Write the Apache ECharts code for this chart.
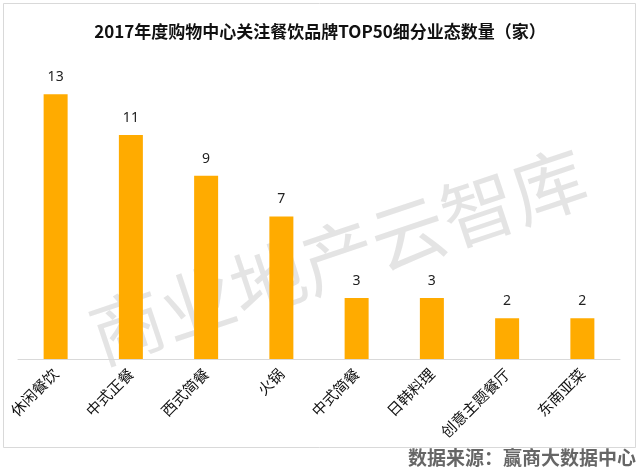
<!DOCTYPE html>
<html>
<head>
<meta charset="utf-8">
<script src="https://cdn.jsdelivr.net/npm/echarts@6/dist/echarts.min.js"></script>
<style>
html,body{margin:0;padding:0;background:#fff;}
#main{width:640px;height:473px;}
</style>
</head>
<body>
<div id="main"></div>
<script>
const categories = ['休闲餐饮','中式正餐','西式简餐','火锅','中式简餐','日韩料理','创意主题餐厅','东南亚菜'];
const values = [13, 11, 9, 7, 3, 3, 2, 2];
const titleText = '2017年度购物中心关注餐饮品牌TOP50细分业态数量（家）';
const sourceText = '数据来源：赢商大数据中心';
const watermarkText = '商业地产云智库';

const chart = echarts.init(document.getElementById('main'));
chart.setOption({
  backgroundColor: '#fff',
  animation: false,
  title: {
    text: titleText,
    left: 'center',
    top: 18,
    textStyle: {fontFamily: 'Noto Sans CJK SC', fontSize: 17, fontWeight: 'bold', color: '#111'}
  },
  graphic: [
    {type: 'rect', shape: {x: 3.5, y: 3.5, width: 632, height: 444}, style: {fill: 'none', stroke: '#d9d9d9', lineWidth: 1}, z: -10},
    {type: 'text', x: 338, y: 256, rotation: 18.5 * Math.PI / 180, z: -5,
      style: {text: watermarkText, fontFamily: 'Noto Sans CJK SC', fontSize: 74, fill: 'rgba(190,190,190,0.42)', align: 'center', verticalAlign: 'middle'}},
    {type: 'text', right: 4, top: 448,
      style: {text: sourceText, fontFamily: 'Noto Sans CJK SC', fontSize: 19, fontWeight: 'bold', fill: '#666'}}
  ],
  grid: {left: 18, right: 20, top: 74, bottom: 114, containLabel: false},
  xAxis: {
    type: 'category',
    data: categories,
    axisLine: {lineStyle: {color: '#d9d9d9', width: 1}},
    axisTick: {show: false},
    axisLabel: {rotate: 45, interval: 0, margin: 12, fontFamily: 'Noto Sans CJK SC', fontSize: 15, color: '#111'}
  },
  yAxis: {
    type: 'value', min: 0, max: 14, show: false,
    splitLine: {show: false}
  },
  series: [{
    type: 'bar',
    data: values,
    barWidth: 24,
    itemStyle: {color: '#FFAB00'},
    label: {show: true, position: 'top', distance: 10, fontFamily: 'Noto Sans', fontSize: 14, color: '#222'}
  }]
});
</script>
</body>
</html>
